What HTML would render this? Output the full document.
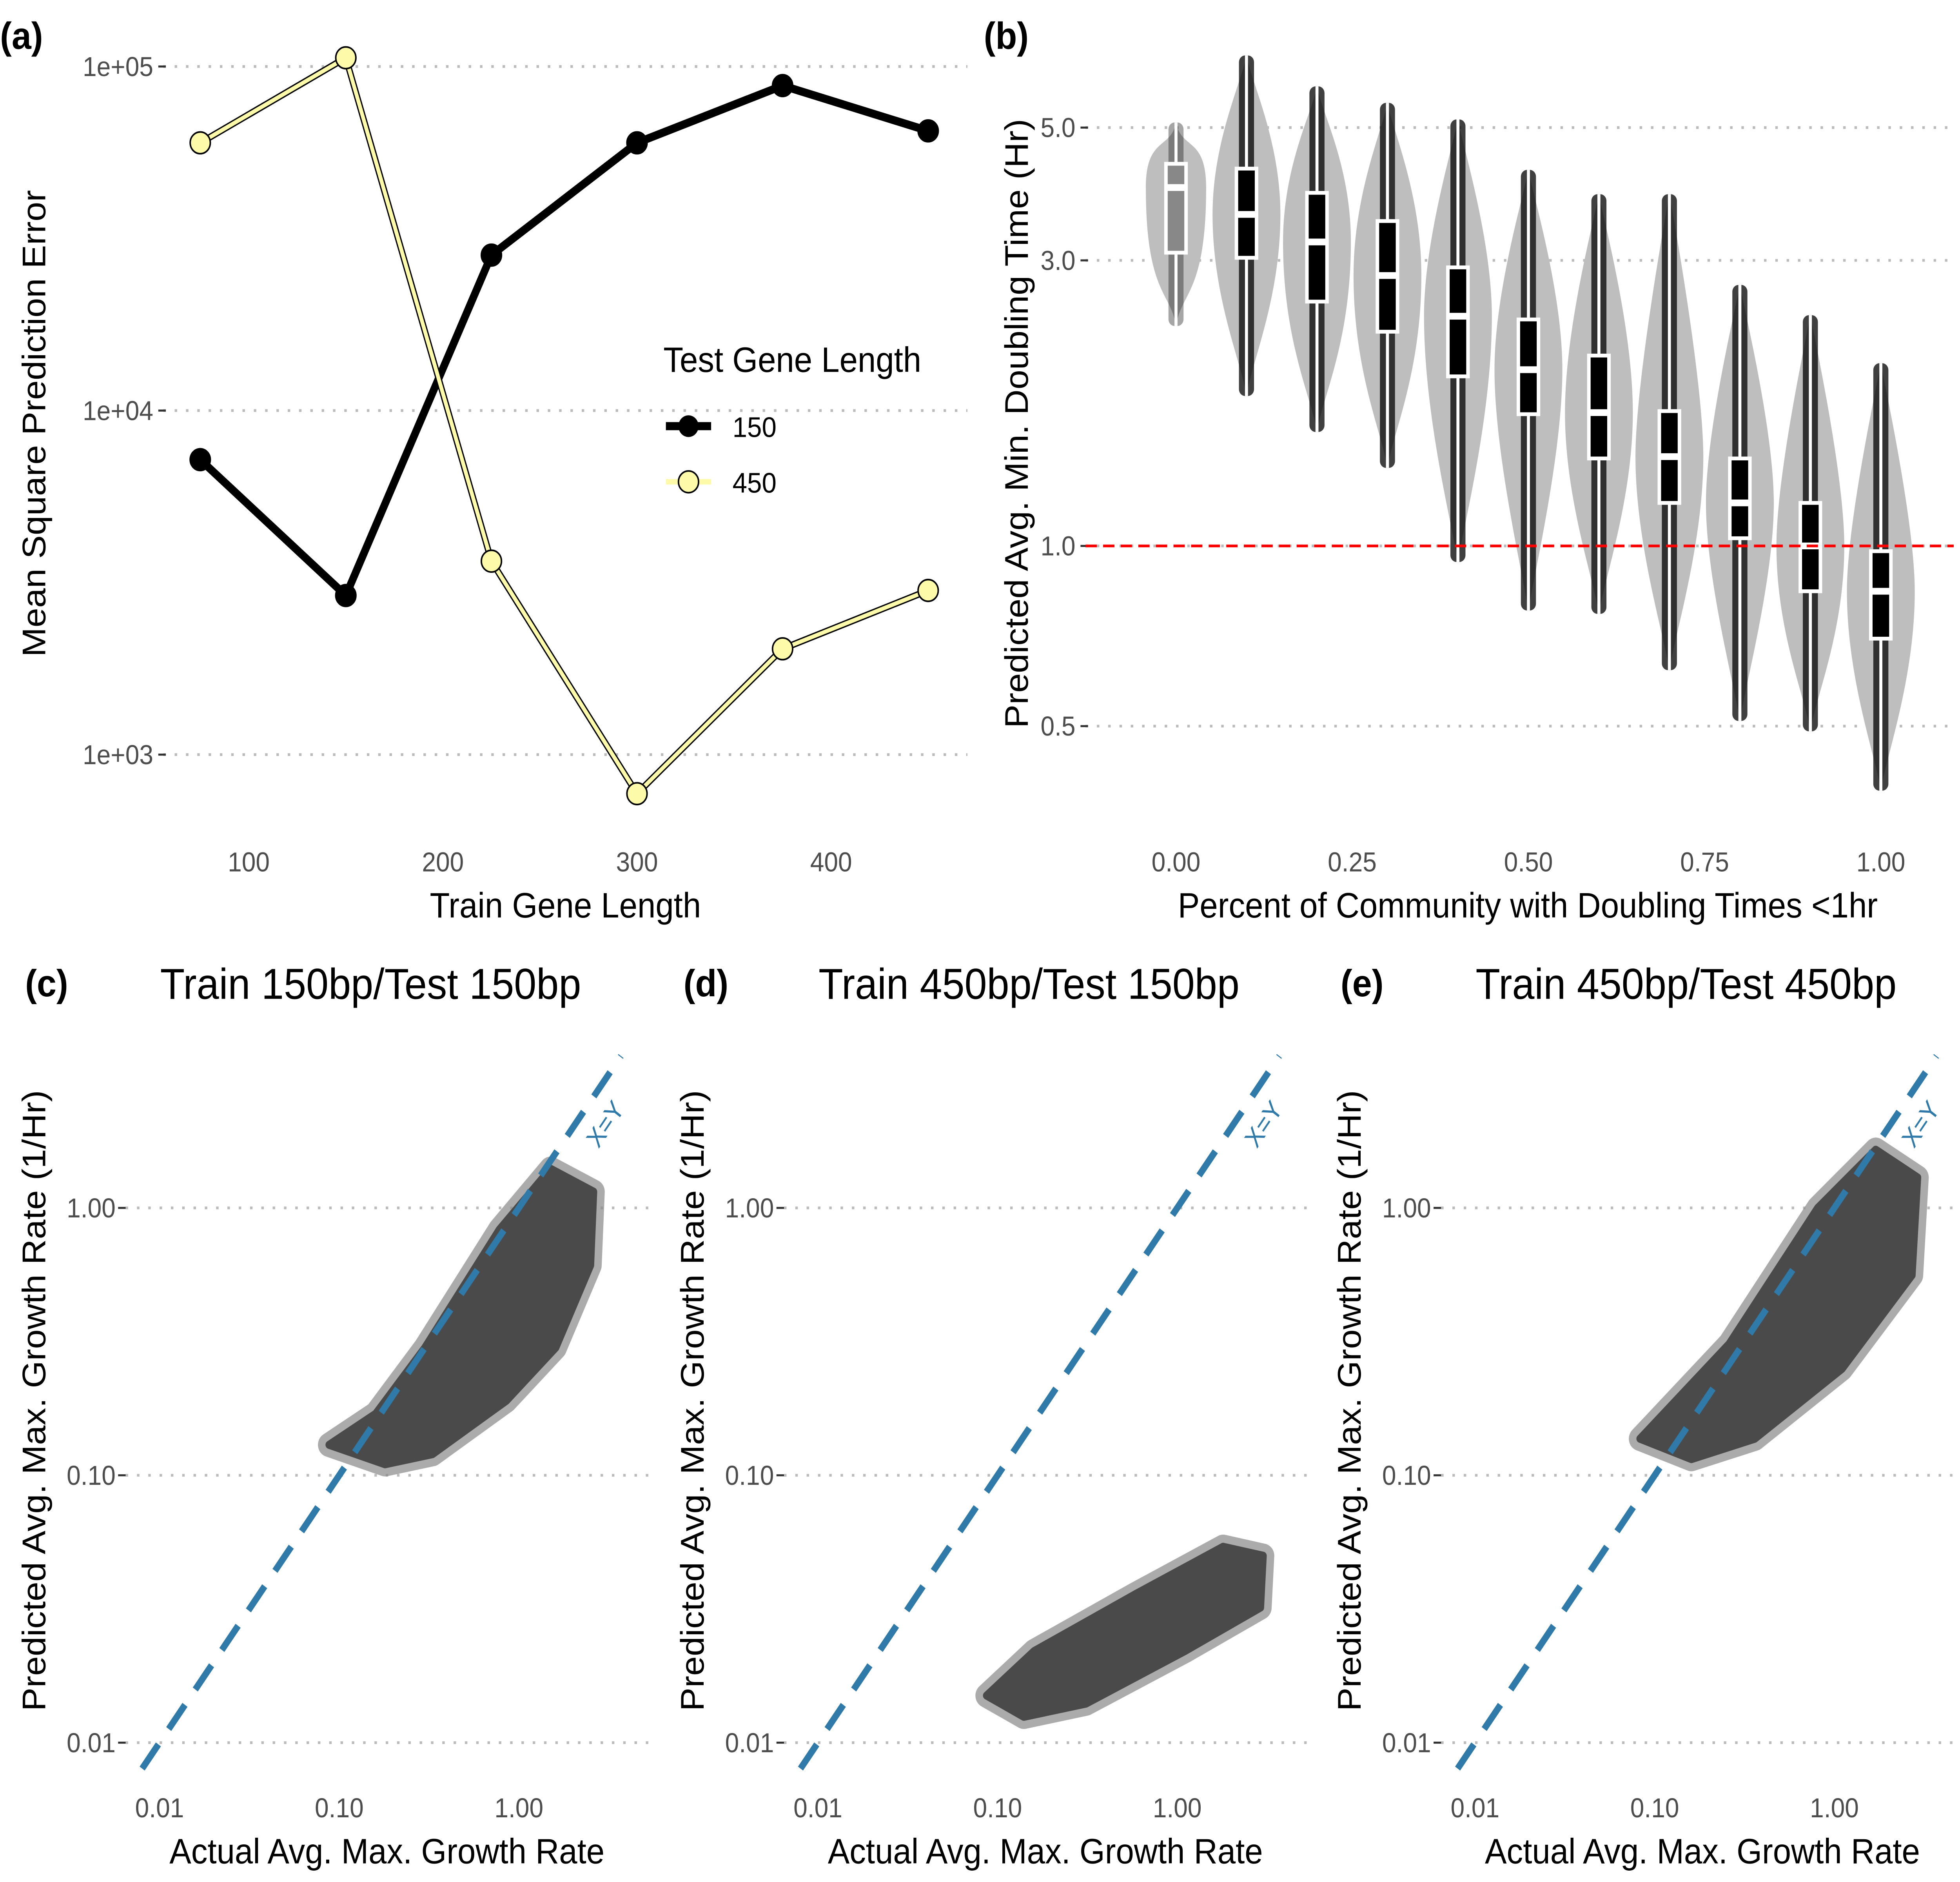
<!DOCTYPE html>
<html><head><meta charset="utf-8"><style>
html,body{margin:0;padding:0;background:#fff;width:100vw;height:100vh;overflow:hidden}
svg{display:block;position:absolute;left:0;top:0;width:100vw;height:100vh}
text{font-family:"Liberation Sans",Arial,sans-serif}
</style></head><body>
<svg id="root" xmlns="http://www.w3.org/2000/svg" viewBox="0 0 1560 1386.67" preserveAspectRatio="none">
<rect width="1560" height="1387" fill="#fff"/>
<g id="s"></g>
</svg>
<script>
// ---- Panel (a) data ----
const aTrain=[75,150,225,300,375,450];
const a150=[7200,2900,28300,60000,88000,65000];
const a450=[60000,106000,3650,770,2030,3000];
const aYTicks=[1e5,1e4,1e3];
const aYLabels=["1e+05","1e+04","1e+03"];
const aXTicks=[100,200,300,400];
// ---- Panel (b) data ----
const bCats=[0,0.1,0.2,0.3,0.4,0.5,0.6,0.7,0.8,0.9,1.0];
const bMin=[2.33,1.78,1.55,1.35,0.94,0.78,0.77,0.62,0.51,0.49,0.39];
const bQ1=[3.09,3.03,2.56,2.28,1.92,1.66,1.40,1.18,1.03,0.84,0.70];
const bMed=[3.97,3.58,3.22,2.83,2.42,1.97,1.67,1.41,1.18,1.00,0.84];
const bQ3=[4.35,4.27,3.89,3.49,2.92,2.39,2.08,1.68,1.40,1.18,0.98];
const bMax=[5.1,6.6,5.86,5.5,5.16,4.25,3.87,3.87,2.73,2.43,2.02];
const bYTicks=[5.0,3.0,1.0,0.5];
const bYLabels=["5.0","3.0","1.0","0.5"];
const bXTicks=[0,0.25,0.5,0.75,1.0];
const bXLabels=["0.00","0.25","0.50","0.75","1.00"];
// ---- Panels c,d,e cloud boundaries (actual, predicted) ----
const cX=[0.088,0.16,0.30,0.78,1.5,2.6,2.5,1.6,0.85,0.33,0.18];
const cY=[0.13,0.17,0.30,0.83,1.40,1.15,0.61,0.30,0.19,0.12,0.11];
const dX=[0.087,0.16,0.59,1.8,3.0,2.9,1.1,0.31,0.14];
const dY=[0.015,0.022,0.036,0.054,0.050,0.032,0.022,0.014,0.0125];
const eX=[0.083,0.26,0.81,1.7,2.9,2.7,1.1,0.36,0.16];
const eY=[0.137,0.31,1.0,1.65,1.30,0.56,0.25,0.137,0.115];
const sTicks=[0.01,0.1,1];
const sLabels=["0.01","0.10","1.00"];

const NS="http://www.w3.org/2000/svg";
const svg=document.getElementById('s');
function el(tag,attrs,parent){const e=document.createElementNS(NS,tag);for(const k in attrs)e.setAttribute(k,attrs[k]);(parent||svg).appendChild(e);return e;}
function txt(x,y,s,attrs,parent){const t=el('text',Object.assign({x:x,y:y},attrs),parent);t.textContent=s;return t;}
const L=Math.log10;

// ===== Panel (a) =====
const ga=el('g',{});


const ax=v=>198+(v-100)*1.545;
const ay=v=>49+(5-L(v))*253.5;
aYTicks.forEach((v,i)=>{
  const g=el('line',{x1:130,x2:770,y1:ay(v),y2:ay(v),stroke:'#bbb','stroke-width':2,'stroke-dasharray':'2 7'},ga);
  
  
  el('line',{x1:126,x2:132,y1:ay(v),y2:ay(v),stroke:'#333','stroke-width':1.5},ga);
  const t=txt(122,ay(v)+7,aYLabels[i],{'font-size':20,fill:'#4d4d4d','text-anchor':'end'},ga);
  
  
});
aXTicks.forEach(v=>{
  const t=txt(ax(v),642,String(v),{'font-size':20,fill:'#4d4d4d','text-anchor':'middle'},ga);
  
  
});
function series(vals,color,w,r,name){
  const p=el('polyline',{points:aTrain.map((x,i)=>ax(x)+','+ay(vals[i])).join(' '),fill:'none',stroke:name==='450'?'#000':color,'stroke-width':w+(name==='450'?2:0),'stroke-linejoin':'round'},ga);
  
  
  if(name==='450'){const p2=el('polyline',{points:p.getAttribute('points'),fill:'none',stroke:color,'stroke-width':w},ga);
    
    }
  aTrain.forEach((x,i)=>{const c=el('circle',{cx:ax(x),cy:ay(vals[i]),r:r,fill:color,stroke:'#000','stroke-width':1.2},ga);
    
    });
}
series(a150,'#000',6,8,'150');
series(a450,'#fdfbaa',3,8,'450');
let t;
t=txt(528,274,'Test Gene Length',{'font-size':26,fill:'#000'},ga);
el('line',{x1:530,x2:566,y1:314,y2:314,stroke:'#000','stroke-width':6},ga);
el('circle',{cx:548,cy:314,r:8,fill:'#000'},ga);
t=txt(583,322,'150',{'font-size':21},ga);
el('line',{x1:530,x2:566,y1:355,y2:355,stroke:'#fdfbaa','stroke-width':4},ga);
el('circle',{cx:548,cy:355,r:8,fill:'#fdfbaa',stroke:'#000','stroke-width':1.2},ga);
t=txt(583,363,'450',{'font-size':21},ga);
t=txt(450,676,'Train Gene Length',{'font-size':26,'text-anchor':'middle'},ga);
t=txt(0,0,'Mean Square Prediction Error',{'font-size':26,'text-anchor':'middle',transform:'translate(36,312) rotate(-90)'},ga);
t=txt(0,36,'(a)',{'font-size':28,'font-weight':'bold'},ga);

// ===== Panel (b) =====
const gb=el('g',{});


const bx=v=>936+v*561;
const by=v=>94+(L(5)-L(v))*441;
bYTicks.forEach((v,i)=>{
  const g=el('line',{x1:864,x2:1555,y1:by(v),y2:by(v),stroke:'#bbb','stroke-width':2,'stroke-dasharray':'2 7'},gb);
  
  
  el('line',{x1:860,x2:866,y1:by(v),y2:by(v),stroke:'#333','stroke-width':1.5},gb);
  const t=txt(856,by(v)+7,bYLabels[i],{'font-size':20,fill:'#4d4d4d','text-anchor':'end'},gb);
  
  
});
bXTicks.forEach((v,i)=>{
  const t=txt(bx(v),642,bXLabels[i],{'font-size':20,fill:'#4d4d4d','text-anchor':'middle'},gb);
  
  
});
bCats.forEach((c,i)=>{
  const cx=bx(c);
  const yMin=by(bMin[i]),yMax=by(bMax[i]),yMed=by(bMed[i]);
  const W=i===0?24:27;
  const yq1=by(bQ1[i]),yq3=by(bQ3[i]);
  const d=`M${cx},${yMax} C${cx+4},${yMax+20} ${cx+W},${yq3-20} ${cx+W},${yMed} C${cx+W},${yq1+30} ${cx+4},${yMin-25} ${cx},${yMin} C${cx-4},${yMin-25} ${cx-W},${yq1+30} ${cx-W},${yMed} C${cx-W},${yq3-20} ${cx-4},${yMax+20} ${cx},${yMax} Z`;
  const v=el('path',{d:d,fill:'#bebebe'},gb);
  
  
  const pts=el('rect',{x:cx-6,y:yMax,width:12,height:yMin-yMax,rx:5,fill:'#000',opacity:i===0?0.35:0.75},gb);
  
  
  el('line',{x1:cx,x2:cx,y1:yMax,y2:yMin,stroke:'#fff','stroke-width':2.4},gb);
  const b=el('rect',{x:cx-8,y:yq3,width:16,height:yq1-yq3,fill:i===0?'#888':'#000',stroke:'#fff','stroke-width':2.8},gb);
  
  
  el('line',{x1:cx-8,x2:cx+8,y1:yMed,y2:yMed,stroke:'#fff','stroke-width':5},gb);
});
const rl=el('line',{x1:864,x2:1555,y1:by(1),y2:by(1),stroke:'#ff0000','stroke-width':2,'stroke-dasharray':'9 5'},gb);


t=txt(1216,676,'Percent of Community with Doubling Times <1hr',{'font-size':26,'text-anchor':'middle'},gb);
t=txt(0,0,'Predicted Avg. Min. Doubling Time (Hr)',{'font-size':26,'text-anchor':'middle',transform:'translate(818,312) rotate(-90)'},gb);
t=txt(783,36,'(b)',{'font-size':28,'font-weight':'bold'},gb);

// ===== Scatter panels =====
function scatter(off,X,Y,tag,title,name){
  const g=el('g',{});
  
  
  const sx=v=>127+off+(L(v)+2)*143;
  const sy=v=>890-L(v)*197;
  sTicks.forEach((v,i)=>{
    const gl=el('line',{x1:100+off,x2:520+off,y1:sy(v),y2:sy(v),stroke:'#bbb','stroke-width':2,'stroke-dasharray':'2 7'},g);
    
    
    el('line',{x1:94+off,x2:100+off,y1:sy(v),y2:sy(v),stroke:'#333','stroke-width':1.5},g);
    let t=txt(92+off,sy(v)+7,sLabels[i],{'font-size':20,fill:'#4d4d4d','text-anchor':'end'},g);
    
    
    t=txt(sx(v),1339,sLabels[i],{'font-size':20,fill:'#4d4d4d','text-anchor':'middle'},g);
    
    
  });
  const ptsStr=X.map((x,i)=>sx(x)+','+sy(Y[i])).join(' ');
  const halo=el('polygon',{points:ptsStr,fill:'#777',stroke:'#888','stroke-width':18,'stroke-linejoin':'round',opacity:0.7},g);
  
  
  const cl=el('polygon',{points:ptsStr,fill:'#4a4a4a',stroke:'#4a4a4a','stroke-width':6,'stroke-linejoin':'round'},g);
  
  
  const dl=el('line',{x1:sx(0.008),y1:sy(0.008),x2:sx(3.7),y2:sy(3.7),stroke:'#2f7aa8','stroke-width':5,'stroke-dasharray':'22 14'},g);
  
  
  let t=txt(0,0,'X=Y',{'font-size':19,fill:'#2f7aa8','text-anchor':'middle',transform:`translate(${487+off},${832}) rotate(-54)`},g);
  
  t=txt(308+off,1373,'Actual Avg. Max. Growth Rate',{'font-size':26,'text-anchor':'middle'},g);
  
  t=txt(0,0,'Predicted Avg. Max. Growth Rate (1/Hr)',{'font-size':26,'text-anchor':'middle',transform:`translate(${36+off},1032) rotate(-90)`},g);
  
  t=txt(20+off,734,tag,{'font-size':28,'font-weight':'bold'},g);
  
  t=txt(295+off,736,title,{'font-size':32,'text-anchor':'middle'},g);
  
}
scatter(0,cX,cY,'(c)','Train 150bp/Test 150bp','panel-c');
scatter(524,dX,dY,'(d)','Train 450bp/Test 150bp','panel-d');
scatter(1047,eX,eY,'(e)','Train 450bp/Test 450bp','panel-e');
</script>
</body></html>
